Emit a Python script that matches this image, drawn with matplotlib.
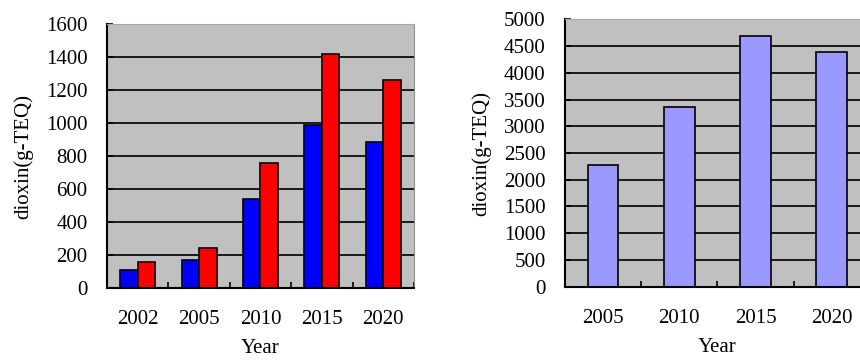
import numpy as np
import matplotlib
matplotlib.use("Agg")
import matplotlib.pyplot as plt

# data
years_left = ["2002", "2005", "2010", "2015", "2020"]
blue_vals = [110, 170, 540, 985, 885]
red_vals = [160, 240, 760, 1420, 1260]

years_right = ["2005", "2010", "2015", "2020"]
total_vals = [2280, 3360, 4680, 4380]

plt.rcParams['font.family'] = ['Liberation Serif', 'DejaVu Serif']
plt.rcParams['font.size'] = 15

fig = plt.figure(figsize=(8.6, 3.6), dpi=100)


def style_axes(ax, ymax, ystep, n):
    ax.set_facecolor('#C0C0C0')
    ax.set_xlim(-0.5, n - 0.5)
    ax.set_ylim(0, ymax)
    ax.set_yticks(np.arange(0, ymax + 1, ystep))
    ax.yaxis.grid(True, color='#1a1a1a', linewidth=1.4)
    ax.set_axisbelow(True)
    ax.spines['left'].set_color('black')
    ax.spines['left'].set_linewidth(1.5)
    ax.spines['bottom'].set_color('black')
    ax.spines['bottom'].set_linewidth(1.5)
    ax.spines['top'].set_color('#a8a8a8')
    ax.spines['right'].set_color('#909090')
    ax.set_xticks(np.arange(-0.5, n, 1.0), minor=True)
    ax.tick_params(axis='x', which='major', length=0, pad=16)
    ax.tick_params(axis='x', which='minor', direction='in', length=4, width=1.2)
    ax.tick_params(axis='y', direction='in', length=4, width=1.2, pad=14)
    ax.set_ylabel("dioxin(g-TEQ)", labelpad=9)
    ax.set_xlabel("Year", labelpad=7)


# left chart: two series, Excel-like gap width
ax1 = fig.add_axes([0.1244, 0.2, 0.357, 0.7333])
x1 = np.arange(len(years_left))
w = 0.286
ax1.bar(x1 - w / 2, blue_vals, w, color='#0000FF', edgecolor='black', linewidth=1.2)
ax1.bar(x1 + w / 2, red_vals, w, color='#FF0000', edgecolor='black', linewidth=1.2)
style_axes(ax1, 1600, 200, len(years_left))
ax1.set_xticks(x1)
ax1.set_xticklabels(years_left)

# right chart runs past the edge of the image
ax2 = fig.add_axes([0.657, 0.2037, 0.3544, 0.7426])
x2 = np.arange(len(years_right))
ax2.bar(x2, total_vals, 0.4, color='#9999FF', edgecolor='black', linewidth=1.2)
style_axes(ax2, 5000, 500, len(years_right))
ax2.set_xticks(x2)
ax2.set_xticklabels(years_right)

fig.savefig("out.png", dpi=100)
